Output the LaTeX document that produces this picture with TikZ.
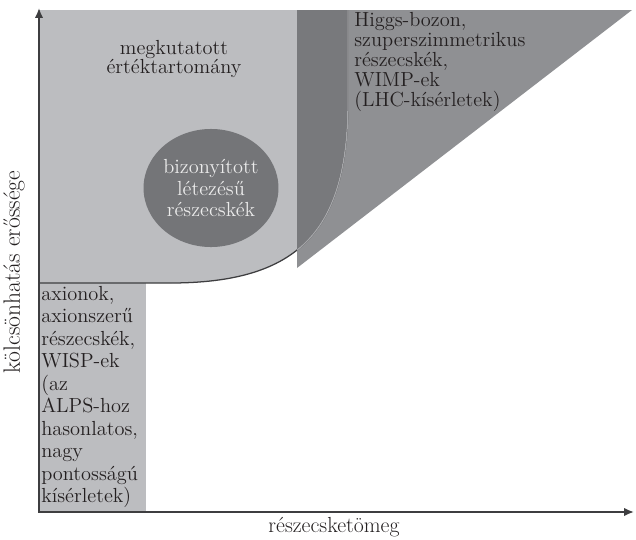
\documentclass[tikz,border=0pt]{standalone}
\usepackage{tikz}
\usetikzlibrary{positioning,arrows.meta,shapes.geometric}
\definecolor{searchlight}{RGB}{188,189,192}
\definecolor{lhcgray}{RGB}{143,144,147}
\definecolor{overlapgray}{RGB}{120,121,124}
\definecolor{knowngray}{RGB}{116,117,120}
\definecolor{axisgray}{RGB}{62,62,64}
\definecolor{inkgray}{RGB}{35,31,32}
\tikzset{
  axisline/.style={draw=axisgray, line width=1.3pt, -{Latex[length=7pt,width=6pt]}},
  edgeline/.style={draw=axisgray, line width=0.9pt},
  labeltext/.style={font=\fontsize{14.5}{14.2}\selectfont, text=inkgray, inner sep=0pt},
  axistext/.style={font=\fontsize{15.5}{16}\selectfont, text=inkgray, inner sep=0pt},
  knownblob/.style={ellipse, fill=knowngray, minimum width=3.3cm, minimum height=2.95cm,
    inner sep=0pt, align=center, text=white!92!black, font=\fontsize{14.5}{15.6}\selectfont}
}
\begin{document}
\begin{tikzpicture}[x=0.025cm,y=-0.025cm]
\useasboundingbox (0,0) rectangle (636,539);

% regions
\path[save path=\searchpath] (39,10) -- (39,283) -- (170,283)
  .. controls (300,283) and (348,230) .. (348,100) -- (348,10) -- cycle;
\path[save path=\lhcpath] (297,10) -- (632,10) -- (297,268) -- cycle;
\fill[searchlight, use path=\searchpath];
\fill[searchlight] (39,283) rectangle (146,512);
\fill[lhcgray, use path=\lhcpath];
\begin{scope}
  \clip[use path=\searchpath];
  \fill[overlapgray, use path=\lhcpath];
\end{scope}

% boundary of the searched region
\draw[edgeline] (39,283) -- (170,283) .. controls (300,283) and (348,230) .. (348,100) -- (348,10);
\begin{scope}
  \clip[use path=\lhcpath];
  \draw[draw=lhcgray!80!white, line width=0.9pt] (170,283) .. controls (300,283) and (348,230) .. (348,100) -- (348,10);
\end{scope}

\node[knownblob] (known) at (211,188) {bizony\'{\i}tott\\l\'etez\'es\H{u}\\r\'eszecsk\'ek};

% texts
\node[labeltext, align=center] (searched) at (174,59) {megkutatott\\\'ert\'ektartom\'any};
\node[labeltext, align=left, anchor=north west] (lhc) at (354,12)
  {Higgs-bozon,\\szuperszimmetrikus\\r\'eszecsk\'ek,\\WIMP-ek\\(LHC-k\'{\i}s\'erletek)};
\node[labeltext, align=left, anchor=north west, font=\fontsize{14.5}{16}\selectfont] (alps) at (41,286)
  {axionok,\\axionszer\H{u}\\r\'eszecsk\'ek,\\WISP-ek\\(az\\ALPS-hoz\\hasonlatos,\\nagy\\pontoss\'ag\'u\\k\'{\i}s\'erletek)};

% axes
\coordinate (origin) at (39,512);
\coordinate (ytop) at (39,8);
\coordinate (xend) at (634,512);
\draw[axisline] (origin) -- (ytop);
\draw[axisline] ([xshift=-0.6pt]origin) -- (xend);
\node[axistext] (xlabel) at (334,527) {r\'eszecsket\"omeg};
\node[axistext, rotate=90, font=\fontsize{16.8}{17}\selectfont] (ylabel) at (14,272) {k\"olcs\"onhat\'as er\H{o}ss\'ege};
\end{tikzpicture}
\end{document}
